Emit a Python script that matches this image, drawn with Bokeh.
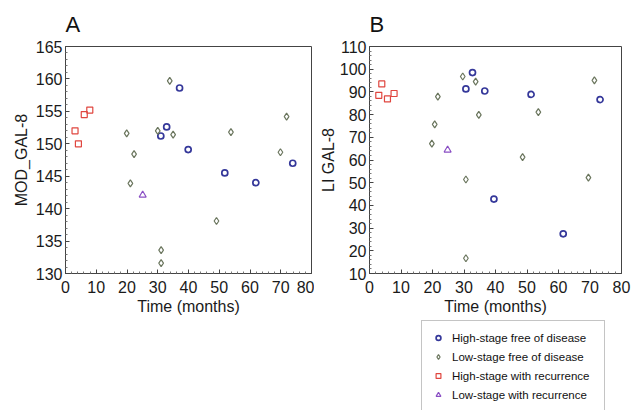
import numpy as np
from bokeh.plotting import figure
from bokeh.layouts import row, column
from bokeh.models import Legend, LegendItem, FixedTicker, Range1d
from bokeh.embed import file_html
from bokeh.resources import INLINE

# ---------------- data ----------------
time_ticks = [0, 10, 20, 30, 40, 50, 60, 70, 80]
a_ticks = [130, 135, 140, 145, 150, 155, 160, 165]
b_ticks = [10, 20, 30, 40, 50, 60, 70, 80, 90, 100, 110]

# Panel A: MOD_GAL-8
a_high_free_t = [37.1, 32.9, 31.0, 39.9, 51.8, 61.9, 73.9]
a_high_free_v = [158.6, 152.6, 151.2, 149.1, 145.5, 144.0, 147.0]
a_low_free_t = [19.9, 22.3, 21.1, 30.0, 33.9, 35.0, 53.8, 71.9, 69.9, 49.1, 31.1, 31.1]
a_low_free_v = [151.6, 148.4, 143.9, 152.0, 159.7, 151.4, 151.8, 154.2, 148.7, 138.1, 133.6, 131.6]
a_high_rec_t = [3.1, 4.2, 6.1, 7.9]
a_high_rec_v = [152.0, 150.0, 154.5, 155.2]
a_low_rec_t = [25.1]
a_low_rec_v = [142.1]

# Panel B: LI GAL-8
b_high_free_t = [32.7, 30.6, 36.6, 51.3, 73.2, 39.5, 61.5]
b_high_free_v = [98.5, 91.3, 90.4, 88.9, 86.6, 42.8, 27.5]
b_low_free_t = [21.7, 20.7, 19.8, 29.6, 33.7, 34.7, 53.6, 48.6, 71.4, 69.5, 30.6, 30.6]
b_low_free_v = [87.9, 75.7, 67.2, 96.8, 94.5, 79.9, 81.1, 61.3, 95.1, 52.2, 51.4, 16.7]
b_high_rec_t = [2.95, 3.9, 5.7, 7.8]
b_high_rec_v = [88.5, 93.5, 86.9, 89.3]
b_low_rec_t = [24.8]
b_low_rec_v = [64.4]

group_names = ["High-stage free of disease", "Low-stage free of disease",
               "High-stage with recurrence", "Low-stage with recurrence"]

# ---------------- styles ----------------
FONT = "Liberation Sans"
styles = [
    dict(marker="circle", line_color="#35389a", size=6, line_width=1.7),
    dict(marker="diamond", line_color="#6b765e", size=7, line_width=1.2),
    dict(marker="square", line_color="#e0463f", size=6, line_width=1.2),
    dict(marker="triangle", line_color="#8a4fc4", size=7, line_width=1.2),
]


def minor_between(ticks, n):
    out = []
    for a, b in zip(ticks[:-1], ticks[1:]):
        out.extend(list(np.linspace(a, b, n + 1)[1:-1]))
    return out


def style_axis(ax, ticks, nminor):
    ax.ticker = FixedTicker(ticks=ticks, minor_ticks=minor_between(ticks, nminor))
    ax.axis_line_color = "#444444"
    ax.major_tick_line_color = "#444444"
    ax.major_tick_in = 4
    ax.major_tick_out = 0
    ax.minor_tick_line_color = "#777777"
    ax.minor_tick_in = 2
    ax.minor_tick_out = 0
    ax.major_label_text_font = FONT
    ax.major_label_text_font_size = "16px"
    ax.major_label_text_color = "#1a1a1a"
    ax.axis_label_text_font = FONT
    ax.axis_label_text_font_size = "16px"
    ax.axis_label_text_font_style = "normal"
    ax.axis_label_text_color = "#1a1a1a"


def make_panel(width, height, yr, yticks, ylabel, series, borders, letter, ylab_standoff):
    p = figure(width=width, height=height, x_range=Range1d(0, 80), y_range=Range1d(*yr),
               output_backend="svg", toolbar_location=None,
               min_border_left=borders[0], min_border_right=borders[1],
               min_border_top=borders[2], min_border_bottom=borders[3])
    p.grid.visible = False
    p.outline_line_color = "#444444"
    p.background_fill_color = "white"
    p.border_fill_color = "white"
    style_axis(p.xaxis[0], time_ticks, 5)
    style_axis(p.yaxis[0], yticks, 5)
    p.xaxis[0].major_label_standoff = 7
    p.xaxis[0].axis_label_standoff = 2
    p.yaxis[0].major_label_standoff = 3
    p.yaxis[0].axis_label_standoff = ylab_standoff
    p.xaxis[0].axis_label = "Time (months)"
    p.yaxis[0].axis_label = ylabel

    p.title.text = letter
    p.title.text_font = FONT
    p.title.text_font_size = "22px"
    p.title.text_font_style = "normal"
    p.title.text_color = "#111111"
    p.title.align = "left"
    p.title.offset = 0
    p.title.vertical_align = "bottom"
    p.title.standoff = 19

    for (t, v), st in zip(series, styles):
        p.scatter(t, v, marker=st["marker"], size=st["size"],
                  fill_color=None, line_color=st["line_color"],
                  line_width=st["line_width"])
    return p


series_a = [(a_high_free_t, a_high_free_v), (a_low_free_t, a_low_free_v),
            (a_high_rec_t, a_high_rec_v), (a_low_rec_t, a_low_rec_v)]
series_b = [(b_high_free_t, b_high_free_v), (b_low_free_t, b_low_free_v),
            (b_high_rec_t, b_high_rec_v), (b_low_rec_t, b_low_rec_v)]

pA = make_panel(314, 318, (130, 165), a_ticks, "MOD_GAL-8", series_a,
                (65, 3, 45, 45), "A", 3)
pB = make_panel(321, 318, (10, 110), b_ticks, "LI GAL-8", series_b,
                (55, 14, 45, 45), "B", 0)

# legend-only panel under B (its glyphs lie outside its 0..1 ranges; only the key shows)
pL = figure(width=321, height=92, x_range=Range1d(0, 1), y_range=Range1d(0, 1),
            output_backend="svg", toolbar_location=None,
            x_axis_location=None, y_axis_location=None,
            min_border_left=55, min_border_right=14, min_border_top=0, min_border_bottom=0)
pL.grid.visible = False
pL.outline_line_color = None
pL.border_fill_color = "white"
pL.background_fill_color = "white"
legend_rends = []
for (t, v), st in zip(series_b, styles):
    legend_rends.append(pL.scatter(t, v, marker=st["marker"], size=st["size"],
                                   fill_color=None, line_color=st["line_color"],
                                   line_width=st["line_width"]))
legend = Legend(items=[LegendItem(label=n, renderers=[r]) for n, r in zip(group_names, legend_rends)],
                location=(52, -2), margin=0, padding=10, spacing=6,
                glyph_width=12, glyph_height=13,
                label_height=13, label_width=142, label_standoff=8,
                label_text_font=FONT, label_text_font_size="11.5px",
                label_text_color="#111111",
                border_line_color="#8a8a8a", border_line_width=1,
                background_fill_color="white", background_fill_alpha=1.0)
pL.add_layout(legend, "center")

layout = row(pA, column(pB, pL))
open("out.html", "w").write(file_html(layout, INLINE))
